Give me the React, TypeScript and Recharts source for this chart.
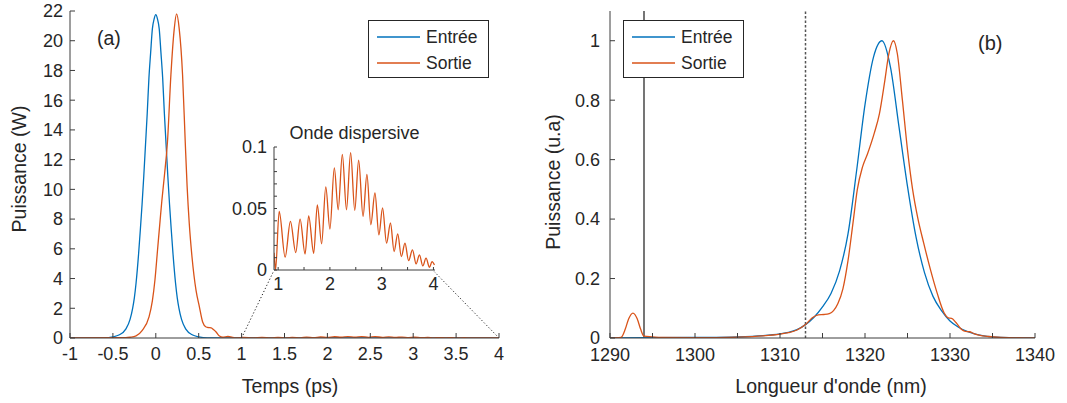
import { LineChart, Line, XAxis, YAxis, ReferenceLine, CartesianGrid, Label } from "recharts";

const BLUE = "#0072BD";
const RED = "#D95319";
const INK = "#262626";
const FRAME = "#3c3c3c";
const FONT = '"Liberation Sans", Arial, Helvetica, sans-serif';

// (a) temporal profiles, power in W
const tEntree = [-1, -0.6, -0.5, -0.43, -0.35, -0.3, -0.27, -0.25, -0.23, -0.2, -0.18, -0.16, -0.14, -0.12, -0.1, -0.08, -0.06, -0.04, -0.02, 0, 0.02, 0.04, 0.06, 0.08, 0.1, 0.12, 0.14, 0.16, 0.18, 0.2, 0.23, 0.25, 0.27, 0.3, 0.35, 0.43, 0.5, 0.6, 4];
const pEntree = [0, 0.01, 0.08, 0.2, 0.6, 1.25, 2.0, 2.7, 3.7, 5.7, 7.3, 9.0, 10.9, 13.0, 15.1, 17.5, 19.2, 20.8, 21.45, 21.75, 21.45, 20.8, 19.2, 17.5, 15.1, 13.0, 10.9, 9.0, 7.3, 5.7, 3.7, 2.7, 2.0, 1.25, 0.6, 0.2, 0.08, 0.01, 0];

const tSortie = [-1, -0.35, -0.3, -0.23, -0.16, -0.08, -0.04, -0.01, 0.02, 0.05, 0.07, 0.1, 0.136, 0.176, 0.215, 0.242, 0.273, 0.312, 0.343, 0.365, 0.39, 0.422, 0.469, 0.508, 0.546, 0.586, 0.615, 0.645, 0.675, 0.703, 0.742, 0.78, 0.84, 0.9];
const pSortie = [0, 0.02, 0.05, 0.14, 0.5, 1.4, 2.5, 3.9, 5.9, 7.9, 9.2, 10.9, 13.2, 17.7, 20.8, 21.8, 20.8, 17.7, 13.2, 10.2, 7.7, 5.45, 3.2, 2.1, 1.08, 0.74, 0.7, 0.68, 0.55, 0.4, 0.13, 0.05, 0.1, 0.04];

// dispersive wave (inset), peaks and troughs
const tOnde = [0.92, 0.935, 0.95, 1.02, 1.135, 1.237, 1.34, 1.424, 1.52, 1.59, 1.687, 1.757, 1.84, 1.92, 2.0, 2.085, 2.16, 2.24, 2.32, 2.4, 2.48, 2.555, 2.64, 2.715, 2.79, 2.87, 2.946, 3.017, 3.094, 3.17, 3.24, 3.31, 3.38, 3.45, 3.52, 3.595, 3.665, 3.73, 3.794, 3.857, 3.923, 3.973, 4.02];
const pOnde = [0.014, 0.006, 0, 0.0477, 0.0104, 0.0395, 0.0142, 0.0414, 0.013, 0.044, 0.0136, 0.053, 0.0213, 0.0676, 0.0333, 0.083, 0.049, 0.094, 0.049, 0.0954, 0.0485, 0.0894, 0.0436, 0.0777, 0.0368, 0.0627, 0.0286, 0.0505, 0.0218, 0.0382, 0.015, 0.0294, 0.0109, 0.0218, 0.0076, 0.0164, 0.0049, 0.0123, 0.0033, 0.0096, 0.0022, 0.0068, 0.004];

// (b) spectra, normalised
const lEntree = [1290, 1300, 1305, 1308, 1310, 1311, 1312, 1313, 1314, 1315, 1316, 1317, 1318, 1319, 1320, 1321, 1322, 1323, 1324, 1325, 1326, 1327, 1328, 1329, 1330, 1331, 1332, 1333, 1334, 1335, 1337, 1340];
const sEntree = [0, 0.002, 0.004, 0.008, 0.014, 0.019, 0.028, 0.045, 0.07, 0.105, 0.15, 0.225, 0.35, 0.56, 0.785, 0.945, 1.0, 0.91, 0.71, 0.51, 0.34, 0.22, 0.14, 0.092, 0.057, 0.036, 0.022, 0.013, 0.007, 0.004, 0.001, 0];

const lSortie = [1290, 1291.3, 1291.8, 1292.2, 1292.7, 1293.2, 1293.6, 1294, 1295, 1296, 1300, 1305, 1308, 1310, 1311, 1312, 1313, 1313.8, 1314.5, 1315.2, 1315.8, 1316.3, 1316.8, 1317.4, 1318, 1318.6, 1319.1, 1319.7, 1320.3, 1321.1, 1321.7, 1322.3, 1322.8, 1323.35, 1323.8, 1324.4, 1325, 1325.6, 1326.2, 1326.9, 1327.7, 1328.5, 1329.3, 1329.8, 1330.2, 1330.7, 1331.3, 1331.8, 1332.3, 1332.8, 1333.4, 1334.5, 1336, 1340];
const sSortie = [0, 0.002, 0.03, 0.065, 0.084, 0.065, 0.03, 0.006, 0.004, 0.002, 0.001, 0.003, 0.007, 0.013, 0.018, 0.027, 0.045, 0.068, 0.078, 0.079, 0.082, 0.092, 0.115, 0.165, 0.26, 0.39, 0.5, 0.575, 0.62, 0.69, 0.755, 0.86, 0.955, 1.0, 0.957, 0.8, 0.633, 0.5, 0.405, 0.32, 0.23, 0.15, 0.085, 0.068, 0.066, 0.052, 0.03, 0.022, 0.021, 0.015, 0.01, 0.005, 0.002, 0];

const ticksTemps = [-1, -0.5, 0, 0.5, 1, 1.5, 2, 2.5, 3, 3.5, 4];
const ticksPuissance = [0, 2, 4, 6, 8, 10, 12, 14, 16, 18, 20, 22];
const ticksTOnde = [1, 1.5, 2, 2.5, 3, 3.5, 4];
const ticksPOnde = [0, 0.01, 0.02, 0.03, 0.04, 0.05, 0.06, 0.07, 0.08, 0.09, 0.1];
const labelsPOnde = [0, 0.05, 0.1];
const ticksLambda = [1290, 1295, 1300, 1305, 1310, 1315, 1320, 1325, 1330, 1335, 1340];
const ticksSpectre = [0, 0.2, 0.4, 0.6, 0.8, 1];

const series = [
  { name: "Entrée", color: BLUE },
  { name: "Sortie", color: RED },
];

const pts = (xs: number[], ys: number[]) => xs.map((x, i) => ({ x, y: ys[i] }));

const entreeA = pts(tEntree, pEntree);
const ondeData = pts(tOnde, pOnde);
const sortieA = pts(tSortie, pSortie).concat(ondeData.filter((p) => p.x > 0.9));
const entreeB = pts(lEntree, sEntree);
const sortieB = pts(lSortie, sSortie);

const tickStyle = { fill: INK, fontSize: 18, fontFamily: FONT };

function xTitle(text: string, cx: number) {
  return () => (
    <text x={cx} y={386} textAnchor="middle" dominantBaseline="central" fontSize={19.5} fill={INK} fontFamily={FONT}>
      {text}
    </text>
  );
}

function yTitle(text: string, cx: number, cy: number) {
  return () => (
    <text x={cx} y={cy} transform={`rotate(-90 ${cx} ${cy})`} textAnchor="middle" dominantBaseline="central" fontSize={19.5} fill={INK} fontFamily={FONT}>
      {text}
    </text>
  );
}

function Key({ left }: { left: number }) {
  return (
    <div style={{ position: "absolute", left, top: 20, width: 121, height: 58, boxSizing: "border-box", border: `1px solid ${INK}`, background: "#fff" }}>
      {series.map((s, i) => (
        <div key={s.name} style={{ position: "absolute", left: 8, top: 6 + i * 26.3, height: 20, display: "flex", alignItems: "center" }}>
          <svg width={43} height={4}>
            <line x1={0} y1={2} x2={43} y2={2} stroke={s.color} strokeWidth={1.5} />
          </svg>
          <span style={{ marginLeft: 6, fontSize: 17.5, color: INK, lineHeight: "20px", fontFamily: FONT }}>{s.name}</span>
        </div>
      ))}
    </div>
  );
}

const tag = (text: string, left: number, top: number, size: number) => (
  <div style={{ position: "absolute", left, top, fontSize: size, color: INK, fontFamily: FONT, lineHeight: 1, whiteSpace: "nowrap" }}>{text}</div>
);

export default function App() {
  return (
    <div style={{ position: "absolute", left: 0, top: 0, width: 1067, height: 403, background: "#fff", fontFamily: FONT }}>
      {/* (a) temporal profile */}
      <div style={{ position: "absolute", left: 0, top: 0 }}>
        <LineChart width={520} height={403} margin={{ top: 11, right: 21, bottom: 0, left: 0 }}>
          <XAxis dataKey="x" type="number" domain={[-1, 4]} ticks={ticksTemps} interval={0} allowDataOverflow height={65} stroke={FRAME} tickSize={-5} tickMargin={14} tick={tickStyle}>
            <Label content={xTitle("Temps (ps)", 290)} />
          </XAxis>
          <XAxis xAxisId="top" orientation="top" dataKey="x" type="number" domain={[-1, 4]} ticks={ticksTemps} interval={0} allowDataOverflow height={0} stroke={FRAME} tickSize={-5} tick={false} />
          <YAxis type="number" domain={[0, 22]} ticks={ticksPuissance} interval={0} allowDataOverflow width={70} stroke={FRAME} tickSize={-5} tickMargin={12} tick={tickStyle}>
            <Label content={yTitle("Puissance (W)", 19, 169)} />
          </YAxis>
          <YAxis yAxisId="right" orientation="right" type="number" domain={[0, 22]} ticks={ticksPuissance} interval={0} width={0} stroke={FRAME} tickSize={-5} tick={false} />
          <ReferenceLine segment={[{ x: 1, y: 0 }, { x: 1.37, y: 4.46 }]} stroke="#222" strokeDasharray="1.2 2.2" ifOverflow="visible" />
          <ReferenceLine segment={[{ x: 4, y: 0 }, { x: 3.246, y: 4.46 }]} stroke="#222" strokeDasharray="1.2 2.2" ifOverflow="visible" />
          <Line data={entreeA} dataKey="y" type="monotone" stroke={BLUE} strokeWidth={1.3} dot={false} isAnimationActive={false} />
          <Line data={sortieA} dataKey="y" type="monotone" stroke={RED} strokeWidth={1.3} dot={false} isAnimationActive={false} />
        </LineChart>
      </div>
      {tag("(a)", 97, 29, 19.5)}
      <Key left={368} />

      {/* inset: dispersive wave */}
      <div style={{ position: "absolute", left: 228, top: 120 }}>
        <LineChart width={220} height={180} margin={{ top: 27, right: 13, bottom: 0, left: 0 }}>
          <CartesianGrid fill="#fff" horizontal={false} vertical={false} />
          <XAxis dataKey="x" type="number" domain={[0.92, 4.03]} ticks={ticksTOnde} interval={0} allowDataOverflow height={30} stroke={FRAME} tickSize={-3} tickMargin={10} tick={tickStyle} tickFormatter={(v: number) => (Number.isInteger(v) ? String(v) : "")} />
          <XAxis xAxisId="top" orientation="top" dataKey="x" type="number" domain={[0.92, 4.03]} ticks={ticksTOnde} interval={0} allowDataOverflow height={0} stroke={FRAME} tickSize={-3} tick={false} />
          <YAxis type="number" domain={[0, 0.1]} ticks={ticksPOnde} interval={0} allowDataOverflow width={46} stroke={FRAME} tickSize={-3} tickMargin={10} tick={tickStyle} tickFormatter={(v: number) => (labelsPOnde.includes(v) ? String(v) : "")} />
          <YAxis yAxisId="right" orientation="right" type="number" domain={[0, 0.1]} ticks={ticksPOnde} interval={0} width={0} stroke={FRAME} tickSize={-3} tick={false} />
          <Line data={ondeData} dataKey="y" type="monotone" stroke={RED} strokeWidth={1.3} dot={false} isAnimationActive={false} />
        </LineChart>
      </div>
      <div style={{ position: "absolute", left: 274, width: 161, top: 124, textAlign: "center", fontSize: 18, color: INK, fontFamily: FONT, lineHeight: 1 }}>Onde dispersive</div>

      {/* (b) spectrum */}
      <div style={{ position: "absolute", left: 540, top: 0 }}>
        <LineChart width={527} height={403} margin={{ top: 11, right: 32, bottom: 0, left: 0 }}>
          <XAxis dataKey="x" type="number" domain={[1290, 1340]} ticks={ticksLambda} interval={0} allowDataOverflow height={65} stroke={FRAME} tickSize={-5} tickMargin={15} tick={tickStyle} tickFormatter={(v: number) => (v % 10 === 0 ? String(v) : "")}>
            <Label content={xTitle("Longueur d'onde (nm)", 291)} />
          </XAxis>
          <XAxis xAxisId="top" orientation="top" dataKey="x" type="number" domain={[1290, 1340]} ticks={ticksLambda} interval={0} allowDataOverflow height={0} stroke={FRAME} tickSize={-5} tick={false} />
          <YAxis type="number" domain={[0, 1.1]} ticks={ticksSpectre} interval={0} allowDataOverflow width={70} stroke={FRAME} tickSize={-5} tickMargin={15} tick={tickStyle}>
            <Label content={yTitle("Puissance (u.a)", 13, 182)} />
          </YAxis>
          <YAxis yAxisId="right" orientation="right" type="number" domain={[0, 1.1]} ticks={ticksSpectre} interval={0} width={0} stroke={FRAME} tickSize={-5} tick={false} />
          <ReferenceLine x={1294} stroke="#1a1a1a" strokeWidth={1.2} />
          <ReferenceLine x={1313} stroke="#555" strokeWidth={1.5} strokeDasharray="2.5 2" />
          <Line data={entreeB} dataKey="y" type="monotone" stroke={BLUE} strokeWidth={1.3} dot={false} isAnimationActive={false} />
          <Line data={sortieB} dataKey="y" type="monotone" stroke={RED} strokeWidth={1.3} dot={false} isAnimationActive={false} />
        </LineChart>
      </div>
      {tag("(b)", 978, 33, 20)}
      <Key left={623} />
    </div>
  );
}
